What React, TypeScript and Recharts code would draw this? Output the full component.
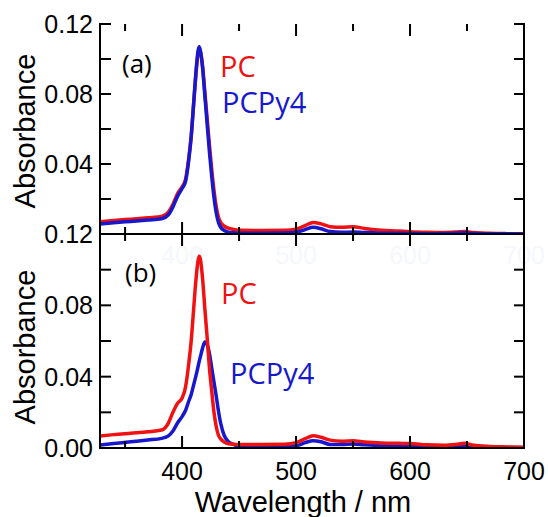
import { LineChart, Line, XAxis, YAxis } from 'recharts';

// wavelength grid (nm) shared by all four spectra
const wavelength = [
  328, 340, 355, 370, 382, 388, 392, 396, 400, 403, 406, 408, 410, 412, 414, 415, 416,
  418, 420, 422, 424, 426, 428, 430, 432, 434, 437, 440, 445, 450, 470, 490, 500, 508,
  515, 522, 530, 540, 550, 560, 575, 590, 600, 615, 630, 640, 648, 656, 670, 685, 700,
];

// panel (a)
const pcA = [
  0.007, 0.0077, 0.0085, 0.0093, 0.01, 0.0125, 0.017, 0.023, 0.027, 0.031, 0.044, 0.056,
  0.073, 0.09, 0.103, 0.106, 0.1045, 0.096, 0.081, 0.066, 0.051, 0.037, 0.025, 0.0155,
  0.0095, 0.0065, 0.0045, 0.0035, 0.0026, 0.0021, 0.002, 0.0021, 0.0028, 0.0048, 0.0066,
  0.0058, 0.0042, 0.0038, 0.0042, 0.0032, 0.0022, 0.0017, 0.0013, 0.001, 0.0009, 0.0011,
  0.0014, 0.0008, 0.0004, 0.0002, 0.0001,
];
const pcpy4A = [
  0.0057, 0.0064, 0.0072, 0.008, 0.0087, 0.011, 0.0155, 0.0215, 0.026, 0.03, 0.043, 0.0555,
  0.073, 0.091, 0.1045, 0.107, 0.105, 0.095, 0.079, 0.063, 0.047, 0.033, 0.021, 0.012,
  0.0065, 0.0037, 0.002, 0.0012, 0.0007, 0.0005, 0.0005, 0.0006, 0.001, 0.0025, 0.0038,
  0.003, 0.0014, 0.001, 0.0011, 0.0008, 0.0005, 0.0004, 0.0003, 0.0002, 0.0003, 0.0005,
  0.0007, 0.0003, 0.0001, 0.0001, 0,
];

// panel (b)
const pcB = [
  0.0067, 0.0075, 0.0083, 0.0091, 0.0101, 0.014, 0.02, 0.025, 0.028, 0.034, 0.048, 0.06,
  0.0765, 0.093, 0.105, 0.1075, 0.106, 0.095, 0.078, 0.062, 0.045, 0.032, 0.02, 0.012,
  0.007, 0.005, 0.0033, 0.0025, 0.0021, 0.002, 0.002, 0.0021, 0.003, 0.0052, 0.0069,
  0.006, 0.0044, 0.0038, 0.0041, 0.0034, 0.0028, 0.0026, 0.0025, 0.0018, 0.0016, 0.002,
  0.0026, 0.0015, 0.0009, 0.0006, 0.0004,
];
const pcpy4B = [
  0.0017, 0.0025, 0.0035, 0.0045, 0.0054, 0.0068, 0.0095, 0.014, 0.0176, 0.021, 0.0265, 0.03,
  0.035, 0.04, 0.0455, 0.0484, 0.051, 0.056, 0.0594, 0.058, 0.053, 0.045, 0.037, 0.029,
  0.0205, 0.0135, 0.007, 0.004, 0.002, 0.001, 0.0007, 0.0008, 0.0012, 0.003, 0.0041,
  0.0035, 0.002, 0.0019, 0.0022, 0.0018, 0.0015, 0.0015, 0.0014, 0.001, 0.001, 0.0012,
  0.0013, 0.0008, 0.0004, 0.0003, 0.0002,
];

const xTicks = [350, 400, 450, 500, 550, 600, 650, 700];
const yTicks = [0, 0.02, 0.04, 0.06, 0.08, 0.1, 0.12];
const yLabels = ['0.00', '0.04', '0.08', '0.12'];

const X_MIN = 328;
const X_MAX = 700;
const Y_MAX = 0.12;

// plot box geometry (px)
const LEFT = 100;
const RIGHT = 524;
const TOP_A = 24;
const BOT_A = 234;
const BOT_B = 448;

const RED = '#f01212';
const BLUE = '#1717cc';
const TICK_FONT = '"Liberation Sans", Arial, sans-serif';
const LABEL_FONT = '"Open Sans", sans-serif';

const rowsA = wavelength.map((wl, i) => ({ wl, pc: pcA[i], pcpy4: pcpy4A[i] }));
const rowsB = wavelength.map((wl, i) => ({ wl, pc: pcB[i], pcpy4: pcpy4B[i] }));

const isMajorX = (v: number) => v % 100 === 0;
const yText = (v: number) => {
  const s = v.toFixed(2);
  return yLabels.includes(s) ? s : null;
};

const sx = (v: number) => LEFT + ((v - X_MIN) / (X_MAX - X_MIN)) * (RIGHT - LEFT);

// inward tick marks of one panel box
function BoxTicks({ top, bottom }: { top: number; bottom: number }) {
  const sy = (v: number) => bottom - (v / Y_MAX) * (bottom - top);
  const bars: any[] = [];
  xTicks.forEach((v) => {
    const len = isMajorX(v) ? 12 : 7;
    const x = sx(v) - 1;
    bars.push({ k: `xb${v}`, x, y: bottom - len, w: 2, h: len });
    bars.push({ k: `xt${v}`, x, y: top, w: 2, h: len });
  });
  yTicks.forEach((v) => {
    const y = sy(v) - 1;
    bars.push({ k: `yl${v}`, x: LEFT, y, w: 11, h: 2 });
    bars.push({ k: `yr${v}`, x: RIGHT - 10, y, w: 10, h: 2 });
  });
  return (
    <g>
      {bars.map((b) => (
        <rect key={b.k} x={b.x} y={b.y} width={b.w} height={b.h} fill="#000" />
      ))}
    </g>
  );
}

function Panel({ rows, top, plotBottom, height, redOnTop, hideZero, ghost }: any) {
  const axisLine = { stroke: '#000', strokeWidth: 2, strokeLinecap: 'square' as const };
  const series = [
    <Line key="pc" xAxisId="b" yAxisId="l" dataKey="pc" type="monotone" stroke={RED}
      strokeWidth={3.5} dot={false} isAnimationActive={false} />,
    <Line key="py" xAxisId="b" yAxisId="l" dataKey="pcpy4" type="monotone" stroke={BLUE}
      strokeWidth={3.5} dot={false} isAnimationActive={false} />,
  ];
  return (
    <div style={{ position: 'absolute', left: 0, top: 0 }}>
      <LineChart width={548} height={height} data={rows}
        margin={{ top, right: 0, bottom: 0, left: 0 }}>
        <XAxis xAxisId="b" dataKey="wl" type="number" domain={[X_MIN, X_MAX]} allowDataOverflow
          ticks={xTicks} interval={0} tickSize={0} tickMargin={0} tickLine={false}
          height={height - plotBottom} axisLine={axisLine}
          tick={(p: any) => {
            const v = p.payload.value;
            return isMajorX(v) ? (
              <text x={p.x} y={p.y + (ghost ? 30 : 32)} textAnchor="middle"
                fontFamily={TICK_FONT} fontSize={25}
                fill={ghost ? '#f5f7fc' : '#000'}>{v}</text>
            ) : <g />;
          }} />
        <XAxis xAxisId="t" orientation="top" dataKey="wl" type="number" domain={[X_MIN, X_MAX]}
          allowDataOverflow ticks={xTicks} tick={false} tickLine={false} height={0}
          axisLine={axisLine} />
        <YAxis yAxisId="l" type="number" domain={[0, Y_MAX]} allowDataOverflow ticks={yTicks}
          interval={0} tickSize={0} tickMargin={0} tickLine={false} width={LEFT}
          axisLine={axisLine}
          tick={(p: any) => {
            const v = p.payload.value;
            const label = yText(v);
            return label && !(hideZero && v === 0) ? (
              <text x={p.x - 7} y={p.y} dy="0.36em" textAnchor="end"
                fontFamily={TICK_FONT} fontSize={25} fill="#000">{label}</text>
            ) : <g />;
          }} />
        <YAxis yAxisId="r" orientation="right" type="number" domain={[0, Y_MAX]} allowDataOverflow
          ticks={yTicks} tick={false} tickLine={false} width={548 - RIGHT} axisLine={axisLine} />
        {redOnTop ? [series[1], series[0]] : series}
      </LineChart>
    </div>
  );
}

export default function App() {
  return (
    <div style={{ position: 'absolute', left: 0, top: 0, width: 548, height: 517,
      background: '#fff', overflow: 'hidden' }}>
      {/* upper panel first so the lower panel's curves sit over its faint x labels */}
      <Panel rows={rowsA} top={TOP_A} plotBottom={BOT_A} height={290} redOnTop={false}
        hideZero ghost />
      <Panel rows={rowsB} top={BOT_A} plotBottom={BOT_B} height={517} redOnTop hideZero={false}
        ghost={false} />
      <svg width={548} height={517}
        style={{ position: 'absolute', left: 0, top: 0, pointerEvents: 'none' }}>
        <BoxTicks top={TOP_A} bottom={BOT_A} />
        <BoxTicks top={BOT_A} bottom={BOT_B} />
        <text x={35} y={131} transform="rotate(-90 35 131)" textAnchor="middle"
          fontFamily={TICK_FONT} fontSize={29} fill="#000">Absorbance</text>
        <text x={35} y={347} transform="rotate(-90 35 347)" textAnchor="middle"
          fontFamily={TICK_FONT} fontSize={29} fill="#000">Absorbance</text>
        <text x={303} y={512} textAnchor="middle" fontFamily={TICK_FONT} fontSize={29}
          fill="#000">Wavelength / nm</text>
        <text x={122} y={73} fontFamily={LABEL_FONT} fontSize={26} fill="#000">(a)</text>
        <text x={220} y={77} fontFamily={LABEL_FONT} fontSize={29} fill={RED}>PC</text>
        <text x={222} y={113} fontFamily={LABEL_FONT} fontSize={29} fill={BLUE}>PCPy4</text>
        <text x={125} y={282} fontFamily={LABEL_FONT} fontSize={26} fill="#000">(b)</text>
        <text x={221} y={304} fontFamily={LABEL_FONT} fontSize={29} fill={RED}>PC</text>
        <text x={230} y={384} fontFamily={LABEL_FONT} fontSize={29} fill={BLUE}>PCPy4</text>
      </svg>
    </div>
  );
}
